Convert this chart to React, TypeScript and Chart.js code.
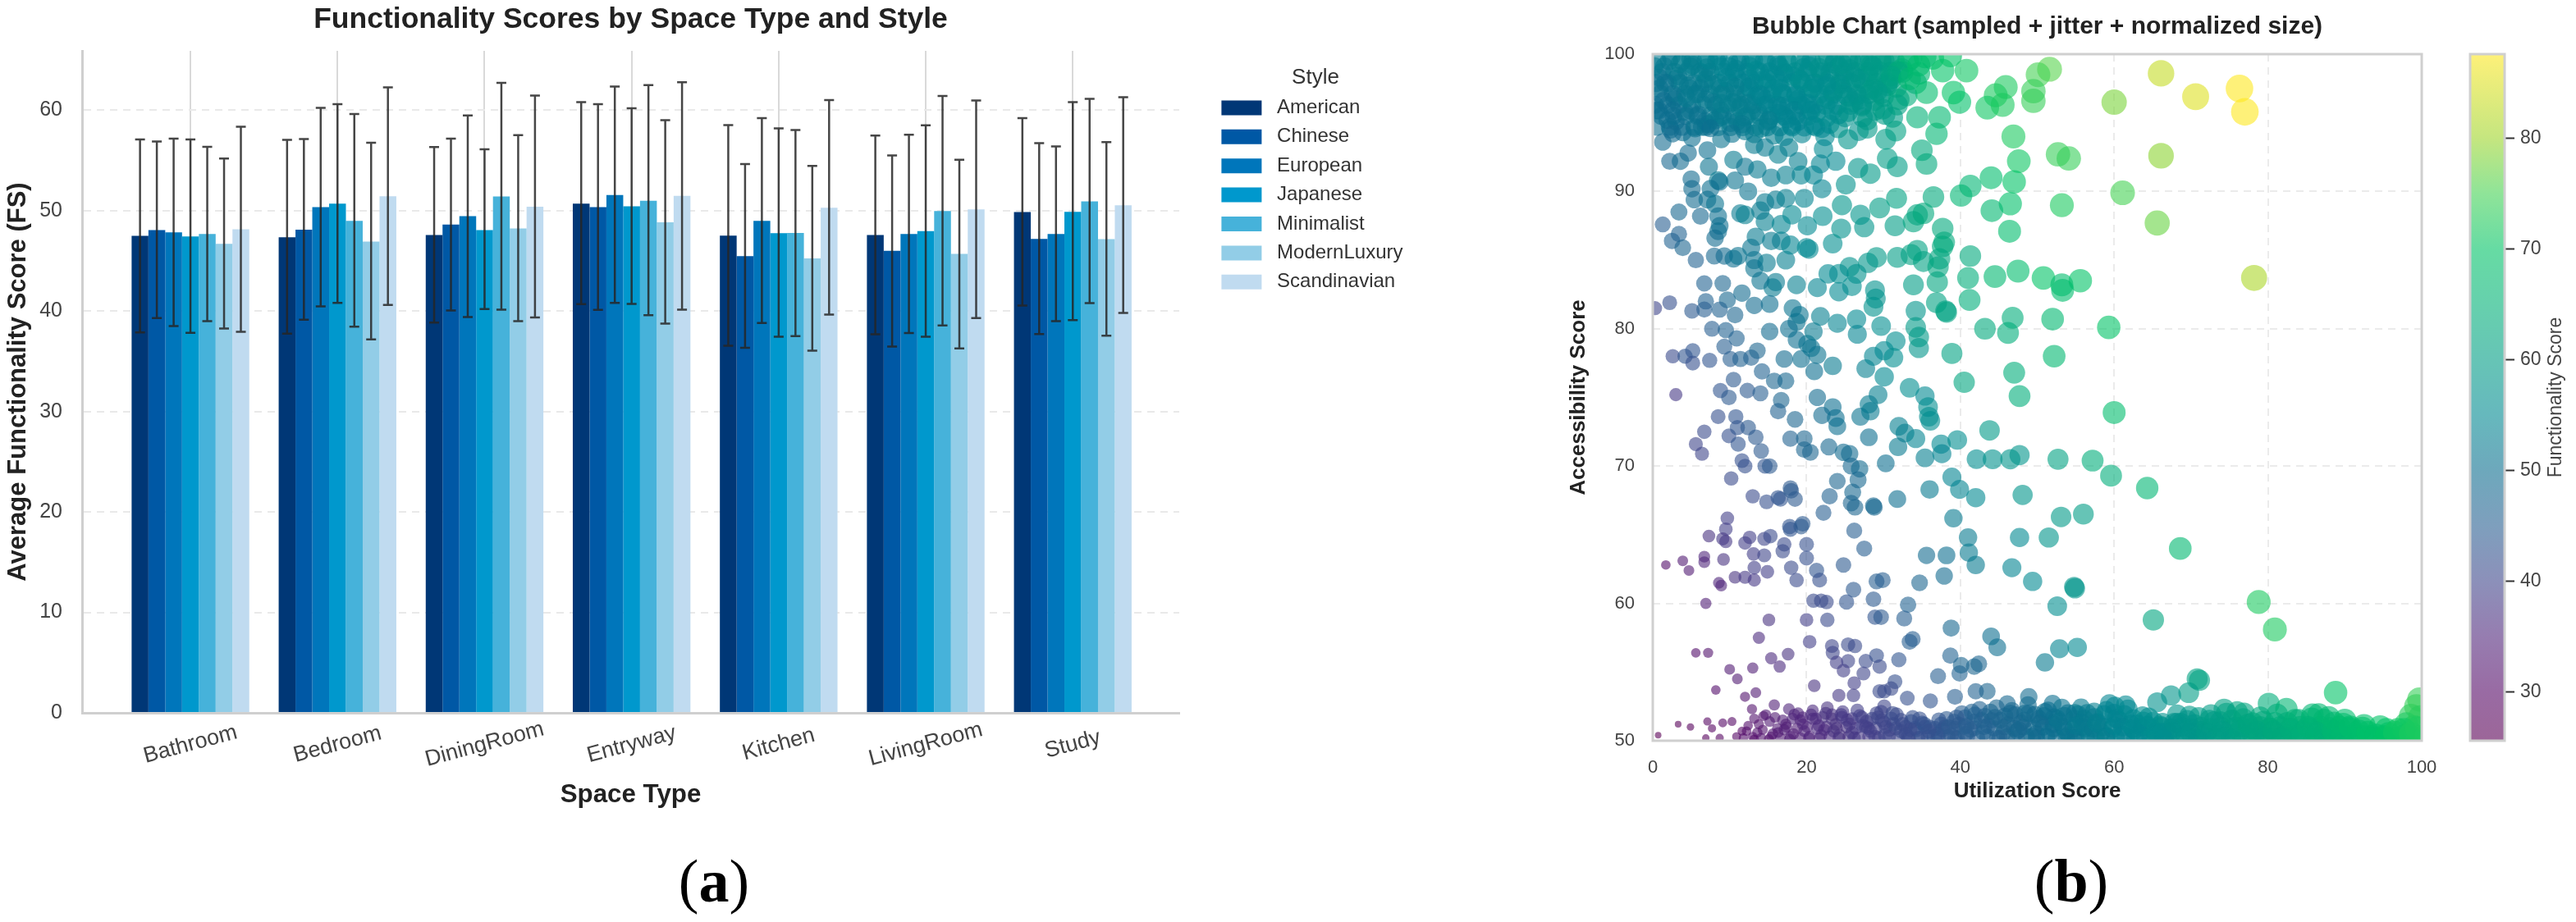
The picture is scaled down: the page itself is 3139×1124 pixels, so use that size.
import React, { useEffect, useRef } from "react";
import { Chart, registerables } from "chart.js";

Chart.register(...registerables);
Chart.defaults.font.family = "'Liberation Sans', Arial, sans-serif";

const categories = ["Bathroom", "Bedroom", "DiningRoom", "Entryway", "Kitchen", "LivingRoom", "Study"];
const styles = ["American", "Chinese", "European", "Japanese", "Minimalist", "ModernLuxury", "Scandinavian"];
const styleColors = ["#003776", "#0058a5", "#0076bb", "#0098cd", "#46b2da", "#92cde7", "#c0dbf0"];

const americanMean = [47.48, 47.35, 47.56, 50.69, 47.51, 47.56, 49.85];
const americanHigh = [57.09, 57.03, 56.33, 60.79, 58.5, 57.47, 59.21];
const americanLow = [37.88, 37.74, 38.86, 40.68, 36.54, 37.69, 40.54];
const chineseMean = [48.05, 48.1, 48.6, 50.34, 45.47, 45.99, 47.18];
const chineseHigh = [56.87, 57.12, 57.17, 60.6, 54.64, 55.48, 56.71];
const chineseLow = [39.29, 39.13, 40.05, 40.11, 36.33, 36.46, 37.71];
const europeanMean = [47.84, 50.34, 49.44, 51.54, 48.98, 47.67, 47.67];
const europeanHigh = [57.17, 60.22, 59.46, 62.34, 59.2, 57.55, 56.38];
const europeanLow = [38.5, 40.46, 39.4, 40.82, 38.8, 37.8, 38.99];
const japaneseMean = [47.43, 50.69, 48.05, 50.42, 47.76, 47.95, 49.88];
const japaneseHigh = [57.09, 60.6, 56.11, 60.19, 58.18, 58.48, 60.79];
const japaneseLow = [37.82, 40.82, 40.19, 40.71, 37.44, 37.44, 39.1];
const minimalistMean = [47.67, 48.98, 51.4, 50.97, 47.78, 49.96, 50.91];
const minimalistHigh = [56.35, 59.62, 62.72, 62.5, 58.01, 61.41, 61.12];
const minimalistLow = [38.99, 38.45, 40.14, 39.59, 37.5, 38.56, 40.79];
const luxuryMean = [46.69, 46.91, 48.22, 48.84, 45.25, 45.69, 47.16];
const luxuryHigh = [55.18, 56.76, 57.5, 59, 54.45, 55.05, 56.82];
const luxuryLow = [38.26, 37.17, 38.99, 38.75, 36.05, 36.27, 37.55];
const scandiMean = [48.14, 51.43, 50.39, 51.46, 50.29, 50.12, 50.53];
const scandiHigh = [58.34, 62.26, 61.44, 62.78, 61, 60.95, 61.28];
const scandiLow = [37.93, 40.6, 39.37, 40.14, 39.65, 39.29, 39.81];

const barMeans = [americanMean, chineseMean, europeanMean, japaneseMean, minimalistMean, luxuryMean, scandiMean];
const barHighs = [americanHigh, chineseHigh, europeanHigh, japaneseHigh, minimalistHigh, luxuryHigh, scandiHigh];
const barLows = [americanLow, chineseLow, europeanLow, japaneseLow, minimalistLow, luxuryLow, scandiLow];

const colorbarTicks = [30, 40, 50, 60, 70, 80];

// [utilization, accessibility, functionality]
const sparseUpper = [
  [40.8,98.8,71],[37.7,98.8,70],[34.6,99.2,68],[33.4,98.2,67],[35.6,97.2,68],[39.9,96.5,69],[39.1,97.2,70],[45.9,97.6,72],[44.6,97,72],[43.5,96.1,71],[45.5,96.3,72],[51.6,98.9,76],[50.1,98.5,75],[49.5,97.3,74],[49.5,96.6,74],[46.9,94,72],[47.6,92.2,71],[52.7,92.7,74],[54.1,92.4,74],[44,91,68],[47,90.7,70],[41.3,90.4,66],[40.1,89.7,66],[46.5,89.1,69],[44.1,88.6,67],[53.2,89,72],[46.4,87.1,68],
  [66.1,98.6,83],[70.6,96.9,85],[76.3,97.5,88],[77,95.8,88],[60,96.5,78],[66.1,92.6,79],[61.1,89.9,75],[65.6,87.7,77],[78.2,83.7,81],[55.6,83.5,70],[59.3,80.1,70],
  [41.3,85.3,63],[44.5,83.8,67],[47.5,84.2,68],[50.8,83.7,70],[53.2,83.2,68],[53.3,82.8,68],[41,83.7,64],[41.2,82.1,64],[37,83.4,62],[36.9,81.9,61],[38.1,81.3,61],[38.2,81.2,61],[33.9,83.2,60],[34.2,81.3,58],[52,80.7,67],[46.8,80.8,64],[43.2,80,63],[46.2,79.7,64],[52.2,78,67],[38.9,78.2,61],[34.6,78.6,58],[34.2,80.1,59],[34.6,79.4,59],[47,76.8,64],[40.5,76.1,62],[47.7,75.1,64],[60,73.9,68],
];
const sparseUpperMid = [
  [1.3,93.6,49],[2.2,92.2,48],[3.6,92.2,49],[7.3,91.8,51],[10.5,92.3,52],[5,90.9,49],[5.1,90.2,49],[8.5,90.8,52],[7.5,90.2,50],[5.4,89.4,49],[7.1,89.4,50],[3.4,88.5,48],[8.1,89.1,51],[6.2,88.2,48],[1.3,87.6,45],[8.5,88.2,50],[8.7,87.5,50],[8.5,87.1,50],[3.4,86.9,46],[2.5,86.4,46],[3.9,85.9,47],[8.1,86.6,49],[5.6,85,46],[8,85.3,48],[9.3,85.3,49],[10.5,85.1,50],[11.1,85.3,51],[13.4,86.7,52],[12.8,85.9,51],[13.2,85,51],[14.8,84.8,52],[17.3,85,53],[16.7,86.4,53],[17.9,86.1,54],[20,85.9,55],[20.3,85.8,55],[15.4,86.4,52],[11.4,88.4,52],[12,88.3,53],[14.6,87.8,53],[16.7,87.6,54],[18.1,88.3,55],[20.1,87.5,55],[22.1,88.2,56],[23.4,86.2,56],[24.5,87.3,57],[27.5,87.4,58],[27,88.3,58],[24.6,89,58],[29.5,88.8,60],[31.7,89.5,61],[31.5,87.5,60],[33.9,87.8,62],[34.4,88.3,62],[35.2,88.4,63],[36.5,89.6,63],[37.7,87.3,63],[37.9,86.3,63],[37.7,86,63],[34.4,85.7,61],[31.8,85.2,60],[33.6,85.4,61],[35.2,84.9,61],[37.1,84.5,62],[37.3,85.1,62],[29.1,85.2,59],[28,84.8,58],[25.6,84.5,57],[26.5,84,57],[24.2,84,56],[22.8,84,55],[24.2,82.7,55],[25.9,83.1,56],[28.9,82.8,57],[29,82.2,57],[28.7,81.6,57],[29.7,80.2,56],[26.5,80.7,55],[24,80.4,54],[26.6,79.6,54],[21.8,80.9,53],[21.4,83,54],[18.7,83.2,53],[16,83.4,52],[15.6,83,52],[14,83.5,51],[13.2,84.4,51],[15.2,81.8,50],[13.2,81.7,49],[11.6,82.6,49],[6.7,83.3,46],[9.1,83.3,47],[6.9,82,46],[9.7,82.1,48],[2.2,81.9,42],[0.3,81.5,40],[5.1,81.3,44],[6.7,81.4,45],[8.7,81.4,46],[10.7,81,47],[7.7,80,45],[9.5,79.9,46],[10.9,79.3,46],[9.3,78.7,45],[2.6,78,41],[4.2,78,43],[5.2,78.4,43],[5.2,77.5,42],[7.4,77.7,43],[10.1,77.8,45],[11.4,77.8,46],[12.8,77.9,46],[13.6,78.4,47],[17.1,77.8,49],[18.2,81.5,51],[19.1,81,51],[18.7,80.5,51],[17.7,80,50],[15.2,79.8,49],[18.7,79.2,50],[20.1,78.9,51],[21.4,78.1,51],[19.3,77.8,50],[20.9,79.8,52],[20.6,78.6,51],[23.4,77.3,52],[21,76.9,50],[27.7,77.1,53],[28.7,78,54],[30.1,78.4,55],[31.6,79.1,56],[31.3,77.9,56],[30.1,76.5,55],[33.4,75.7,56],[29.3,75.2,53],[35.4,75.1,55],[28.1,74.5,52],[35.8,74.3,56],[3,75.2,38],[8.8,75.5,43],[10.5,76.3,44],[9.9,75,44],[12.3,75.5,44],[14,75.3,45],[14.2,76.9,46],[15.8,76.2,47],[17.3,76.2,48],[16.7,74.8,47],[21.4,75,49],[23.4,74.3,50],
  [2.6,94.2,49],[7.5,94.6,50],[10.3,94.2,51],[4.6,92.8,49],[7.1,93,50],[13.2,93.4,52],[14.6,93.2,52],[16.3,92.7,53],[17.7,93.2,53],[18.9,92.2,53],[22.2,93.1,55],[23.8,92.2,55],[21.8,92,54],[19.3,91.2,54],[22,90.2,54],[20.9,91.2,54],[12,91.8,51],[13.6,91.6,52],[15.4,91,52],[17.3,91.2,53],[8.7,90.7,50],[10.7,90.8,51],[12.4,90,51],[14.6,89.2,52],[16,89.4,52],[17.3,89.5,53],[19.7,89.5,54],[14,88.6,52],[26.7,91.7,58],[28.3,91.3,59],[25.1,90.5,57],[31.8,91.8,60],[30.5,92.4,60],[35.6,92,63],[35,93,63],[31.6,94.4,61],[30.3,93.8,60],[27.9,94.6,59],[25.4,93.8,58],[36.9,94.2,66],[34.4,95.4,65],[37.3,95.4,67],[31.8,96.3,61],[29.9,96,60],[27.9,95.2,59],[25.4,95.8,58],[22.6,95.4,56],
];
const sparseLowerMid = [
  [8.5,73.6,42],[10.8,73.6,43],[16.3,74,46],[18.5,73.4,47],[22,73.7,49],[23.8,73.5,50],[24,72.9,50],[27,73.6,51],[28.3,74,52],[32,72.9,53],[32.8,72.4,53],[34.2,72,54],[35.9,73.6,56],[36.1,73.3,56],[43.8,72.6,59],[6.7,72.5,41],[5.6,71.6,40],[6.4,70.9,40],[9.9,72.2,42],[11,72.8,43],[12.4,72.8,44],[11.1,71.6,43],[13.4,72.1,44],[14.1,71.1,44],[11.6,70.4,42],[12,70,42],[14.6,70,43],[15.2,70,44],[10.2,69.1,41],[17.9,72,46],[19.7,72,47],[19.7,71.2,47],[20.5,71,47],[22.9,71.4,48],[24.8,71,49],[25.6,70.9,49],[25.8,70,48],[26.9,69.8,49],[28.1,72.1,50],[30.3,70.2,50],[31.9,71.4,52],[35.4,70.6,53],[37.5,71.6,55],[37.6,70.9,54],[39.6,71.9,56],[42.1,70.5,56],[44.2,70.5,57],[46.5,70.5,58],[47.7,70.8,58],[52.7,70.5,61],[26.7,69,48],[24,68.9,47],[26,68.1,48],[23,67.8,46],[25.8,67.3,47],[26.3,67,47],[28.7,67.1,48],[28.8,67,48],[22.2,66.6,45],[31.8,67.6,50],[36,68.3,52],[38.9,69.2,54],[39.9,68.3,54],[42,67.7,55],[48.1,67.9,58],[39.1,66.2,52],[53.1,66.3,59],[56,66.5,60],
  [13,67.8,41],[14.8,67.4,42],[16.3,67.7,43],[16.6,67.6,43],[17.9,68.4,44],[18,68.2,44],[18.5,67.6,44],[9.7,66.2,39],[9.5,65.4,39],[17.8,65.6,43],[17.9,65.4,43],[19.3,65.6,44],[19.5,65.8,44],[7.3,64.9,37],[9.1,64.7,38],[9.5,64.5,38],[12.6,64.8,39],[12,64.4,39],[14.5,64.7,40],[15.3,64.9,41],[17.1,64.3,41],[16.9,63.8,41],[20,64.3,42],[20,63.3,42],[26.2,65.3,45],[27.5,64,45],[24.8,62.8,44],[13.1,63.6,39],[14.5,63.5,40],[13.2,62.6,39],[14.9,62.3,39],[18,62.6,41],[21.3,62.4,43],[21.7,61.7,42],[18.7,61.7,41],[10.7,61.9,37],[12,61.9,38],[13.2,61.7,38],[1.7,62.8,31],[3.9,63.1,33],[4.7,62.4,33],[6.7,63.4,35],[6.7,63,35],[9.2,63.2,37],[8.6,61.5,35],[8.9,61.3,35],[6.9,60,34],[35.6,63.5,49],[38.2,63.5,50],[41,64.8,52],[41.1,63.7,52],[42,62.8,52],[47.7,64.8,55],[51.5,64.8,58],[46.7,62.6,54],[49.4,61.6,55],[37.9,62,49],[34.7,61.5,47],[29.1,61.6,45],[29.9,61.7,45],[54.8,61.2,58],[54.9,61.1,58],[52.6,59.8,56],
  [20.9,60.2,41],[21.9,60.2,41],[22.6,60.1,41],[26.1,61,44],[25.2,60.1,43],[28.7,60.3,44],[33.2,59.9,46],[32.7,58.9,45],[28.9,59,43],[29.7,59,44],[22.7,58.8,41],[20,58.8,39],[15.1,58.8,37],[13.8,57.5,36],[20.4,57.2,39],[23.3,56.9,40],[23.4,56.4,40],[25.4,57,41],[26.3,56.9,41],[38.8,58.2,48],[33.8,57.4,45],[33.4,57.2,45],[44,57.6,50],[44.8,56.8,50],[52.9,56.7,54],[55.2,56.8,55],[51,55.7,52],
  [5.6,56.4,31],[7.2,56.4,32],[17.6,56.3,37],[15.4,56,36],[16.5,55.4,36],[13,55.3,34],[10,55.2,33],[11,54.5,33],[8.2,53.7,31],[25.4,55.8,40],[23.9,55.7,39],[24.8,55.1,39],[27.7,55.8,41],[29.1,56.2,42],[29.5,55.4,41],[27.4,54.9,40],[32,55.9,43],[38.7,56.2,46],[37.1,54.7,45],[39.9,54.9,46],[40.1,55.5,47],[41.8,55.4,47],[42.4,55.6,47],[26.2,54.2,39],[31.5,54.3,42],[31,53.8,41],[29.5,53.6,41],[30.1,53.6,41],[24.2,53.3,38],[26.1,53.3,39],[21,54,37],[13.4,53.5,33],[12,53.2,32],[15.8,52.6,34],[17.7,52.3,35],[12.9,52.3,32],[33.1,53.1,42],[36.1,52.9,43],[39.3,53.2,45],[42,53.6,46],[43.5,53.6,47],[48.9,53.2,49],[52,52.7,50],[46.1,52.7,48],[55.7,52.4,52],[30.1,52.5,40],[3.3,51.2,27],[4.9,51,28],[0.7,50.4,26],[7.1,51.4,29],[7.7,50.9,29],[6.9,50.2,28],[8.7,50.2,29],[9.1,51.3,30],[10.3,51.4,30],[11.6,50.7,30],[13.2,51.6,32],[14.4,51.8,32],[15.2,51.4,33],
];
const sparseRight = [
  [57.2,70.4,64],[59.6,69.3,64],[64.3,68.4,66],[68.6,64,67],[78.8,60.1,72],[80.9,58.1,72],[65.1,58.8,62],
  [88.8,53.5,70],[70.8,54.5,61],[71.1,54.4,61],[69.7,53.5,60],[67.4,53.3,58],[65.6,52.8,57],[80.1,52.7,64],[82.4,52.3,66],[76,52.1,62],[74.3,52.3,61],[60.1,52.5,55],[54.9,52,52],[86.6,51.9,67],[92.5,51.1,69],[95.4,50.8,70],[99.7,53,74],[98.6,51.8,73],[99.3,52.5,74],[98,51.2,72],
];
const topRowA = [
  [0.6,99.5,52],[2.1,99.5,52],[3.8,99.5,53],[5.2,99.5,53],[6.9,99.5,53],[8.3,99.5,54],[9.9,99.5,54],[11.4,99.5,54],[12.8,99.5,55],[14.5,99.5,55],[16.1,99.5,55],[17.4,99.5,56],[19.2,99.5,56],[20.6,99.5,56],[22.3,99.5,57],[23.7,99.5,57],[25.4,99.5,58],[26.9,99.5,59],[28.3,99.5,59],[30.1,99.5,60],[31.4,99.5,62],[33.2,99.5,65],[36.4,99.7,68],[38.7,99.9,70],
  [1.2,98.7,51],[2.8,98.7,52],[4.4,98.7,52],[6.1,98.7,53],[7.5,98.7,53],[9.2,98.7,54],[10.6,98.7,54],[12.3,98.7,54],[13.9,98.7,55],[15.2,98.7,55],[17,98.7,55],[18.5,98.7,56],[20.1,98.7,56],[21.8,98.7,56],[23.1,98.7,57],[24.9,98.7,57],[26.3,98.7,58],[28,98.7,59],[29.6,98.7,60],[30.9,98.7,61],[32.5,98.7,63],
];
const topRowB = [
  [0.4,97.9,51],[2,97.9,51],[3.5,97.9,52],[5.3,97.9,52],[6.7,97.9,53],[8.6,97.9,53],[10,97.9,53],[11.7,97.9,54],[13.2,97.9,54],[14.8,97.9,55],[16.4,97.9,55],[18,97.9,55],[19.5,97.9,56],[21.1,97.9,56],[22.6,97.9,56],[24.3,97.9,57],[25.8,97.9,58],[27.4,97.9,58],[29,97.9,59],[30.5,97.9,60],
  [1,97.1,51],[2.6,97.1,51],[4.2,97.1,52],[5.9,97.1,52],[7.4,97.1,52],[9,97.1,53],[10.7,97.1,53],[12.1,97.1,53],[13.8,97.1,54],[15.5,97.1,54],[16.9,97.1,55],[18.6,97.1,55],[20.2,97.1,56],[21.7,97.1,56],[23.4,97.1,56],[24.8,97.1,57],[26.5,97.1,58],[28.1,97.1,58],[29.7,97.1,59],
  [0.3,96.3,50],[1.9,96.3,51],[3.4,96.3,51],[5.1,96.3,52],[6.6,96.3,52],[8.2,96.3,52],[9.8,96.3,53],[11.5,96.3,53],[13,96.3,53],[14.6,96.3,54],[16.2,96.3,54],[17.7,96.3,55],[19.3,96.3,55],[21,96.3,55],[22.5,96.3,56],[24,96.3,56],[25.7,96.3,57],[27.2,96.3,58],
];
const topRowC = [
  [1.1,95.5,50],[2.7,95.5,50],[4.3,95.5,51],[5.8,95.5,51],[7.5,95.5,52],[9.1,95.5,52],[10.6,95.5,52],[12.2,95.5,53],[13.9,95.5,53],[15.4,95.5,54],[17.1,95.5,54],[18.6,95.5,54],[20.2,95.5,55],
  [0.5,94.7,50],[2.2,94.7,50],[3.8,94.7,50],[5.4,94.7,51],[6.9,94.7,51],[8.5,94.7,52],[10.1,94.7,52],[11.7,94.7,52],[13.3,94.7,53],[14.9,94.7,53],[16.5,94.7,54],[18.1,94.7,54],[19.7,94.7,55],[21.2,94.7,55],
  [1.5,99.1,52],[4.9,99.1,53],[8.8,99.1,54],[12.6,99.1,55],[16.5,99.1,55],[20.4,99.1,56],[24.2,99.1,57],[28.6,99.1,59],[3.1,98.2,52],[7,98.2,53],[11,98.2,54],[14.9,98.2,55],[19,98.2,56],[23,98.2,57],[27,98.2,58],[31,98.2,61],[0.9,97.5,51],[4.8,97.5,52],[8.7,97.5,53],[12.7,97.5,54],[16.6,97.5,55],[20.8,97.5,56],[24.6,97.5,57],[28.7,97.5,59],[2.8,96.7,51],[6.9,96.7,52],[10.9,96.7,53],[14.7,96.7,54],[18.9,96.7,55],[22.9,96.7,56],[26.8,96.7,58],[0.8,95.9,50],[4.9,95.9,51],[8.8,95.9,52],[12.9,95.9,53],[16.7,95.9,54],[20.6,95.9,55],[3,95.1,50],[6.8,95.1,51],[11,95.1,52],[15,95.1,53],[18.9,95.1,54],
  [24.1,94.6,57],[22.4,94,55],[17.1,94,54],[13.2,94.2,53],[8.9,93.8,51],[5.1,93.9,50],
];
const topScatterA = [
  [0.8,98.3,51],[1.9,95.2,50],[2.4,99.8,52],[3.1,96.9,51],[3.9,94.3,50],[4.6,97.7,52],[5.2,99.2,53],[5.9,95.6,51],[6.6,98.6,53],[7.2,94.9,51],[7.9,96.5,52],[8.5,99.9,54],[9.4,97.3,53],[10.1,95,52],[10.8,98.9,54],[11.3,96.1,53],[12,94.4,52],[12.5,97.6,54],[13.1,99.6,55],[13.7,95.8,53],[14.3,98.1,55],[15,96.4,54],[15.8,94.1,53],[16.3,99.2,55],[16.8,97.2,55],[17.5,95.3,54],[18.2,98.4,56],[18.8,96.6,55],[19.4,94.2,54],[20,99.7,56],[20.7,97.5,56],[21.3,95.7,55],[21.9,98.5,56],[22.4,96.8,56],[23,94.9,56],[23.6,99.3,57],[24.4,97.8,57],[25,95.4,57],[25.6,98.9,58],[26.1,96.5,58],[26.8,94.4,57],[27.5,99.5,59],[28.2,97.4,59],[28.9,95.9,59],[29.4,98.5,60],[30,96.9,60],[30.8,99.8,61],[31.7,97.6,62],[32.4,98.9,64],[33.6,99.7,66],[34.2,97.9,66],
];
const topScatterB = [
  [0.2,99.1,52],[1.4,96.6,50],[2.3,94.5,50],[3.3,98.4,52],[4.1,95.8,51],[4.9,99.7,53],[5.6,97.1,52],[6.4,94.7,51],[7,99,53],[7.8,97.8,53],[8.7,95.4,52],[9.6,98.3,54],[10.4,96.5,53],[11,99.4,54],[11.9,95.4,53],[12.7,98.2,54],[13.5,96.9,54],[14.1,94.6,53],[14.8,99.4,55],[15.7,97.5,55],[16.4,95.7,54],[17.2,98.6,55],[18,94.8,54],[18.6,97,55],[19.6,99,56],[20.4,95.9,55],[21,97.9,56],[22,94.6,55],[22.8,99.8,57],[23.5,97.3,57],[24.2,95.6,56],[24.9,98.2,57],[25.8,99.6,58],[26.6,97,58],[27.3,95.4,58],[28,98.4,59],[28.8,96.6,59],[29.7,99.6,60],[30.5,97.7,60],[31.2,95.4,60],[31.9,98.7,63],[33,97,64],[34.6,98.6,67],[35.4,99.8,68],
];
const topScatterC = [
  [0.5,95.9,50],[1.6,97.9,51],[2.6,95.9,50],[3.5,99.3,53],[4.4,96.8,52],[5.5,94.6,51],[6.2,97.5,52],[7.3,99.6,54],[8.1,95.2,52],[9,96.4,53],[9.9,99.1,54],[10.7,97.6,53],[11.6,94.9,52],[12.4,96.4,53],[13.4,98.8,55],[14.1,97,54],[15.1,95.2,53],[15.9,98.4,55],[16.7,96.2,54],[17.6,99.4,56],[18.4,95.9,54],[19.2,98.1,56],[20.1,96.4,55],[20.9,94.8,55],[21.6,99,57],[22.6,97.7,56],[23.4,95.9,56],[24.6,99.3,58],[25.4,96.9,57],[26.4,98.3,58],[27.2,96.2,58],[28.4,99.2,59],[29.2,97.3,59],[30.2,95.6,60],[31,98.4,61],[32,96.7,62],
];
const bottomRowA = [
  [11.8,50.2,31],[13,50.3,31],[14.1,50.2,32],[15.4,50.3,32],[16.6,50.2,33],[17.9,50.3,34],[19.2,50.2,34],[20.4,50.3,35],[21.7,50.2,35],[23,50.3,36],[24.2,50.2,37],[25.5,50.3,37],[26.8,50.2,38],[28.1,50.3,38],[29.4,50.2,39],[30.7,50.3,40],[31.9,50.2,40],[33.2,50.3,41],[34.5,50.2,41],[35.8,50.3,42],[37.1,50.2,43],[38.4,50.3,43],[39.6,50.2,44],[40.9,50.3,44],[42.2,50.2,45],[43.5,50.3,46],[44.8,50.2,46],[46.1,50.3,47],[47.3,50.2,47],[48.6,50.3,48],[49.9,50.2,49],[51.2,50.3,49],[52.5,50.2,50],[53.8,50.3,50],[55,50.2,51],[56.3,50.3,52],[57.6,50.2,52],[58.9,50.3,53],[60.2,50.2,53],[61.5,50.3,54],[62.8,50.2,55],[64.1,50.3,55],[65.3,50.2,56],[66.6,50.3,56],[67.9,50.2,57],[69.2,50.3,58],[70.5,50.2,58],[71.8,50.3,59],[73.1,50.2,59],[74.4,50.3,60],[75.6,50.2,61],[76.9,50.3,61],[78.2,50.2,62],[79.5,50.3,62],[80.8,50.2,63],[82.1,50.3,64],[83.4,50.2,64],[84.7,50.3,65],[86,50.2,65],[87.2,50.3,66],[88.5,50.2,67],[89.8,50.3,67],[91.1,50.2,68],[92.4,50.3,68],[93.7,50.2,69],[95,50.3,70],[96.3,50.2,70],[97.6,50.3,71],[98.9,50.2,71],[99.8,50.3,72],
];
const bottomRowB = [
  [16.2,50.9,33],[17.4,51,34],[18.8,50.9,34],[20.1,51,35],[21.4,50.9,36],[22.6,51,36],[23.9,50.9,37],[25.2,51,37],[26.4,50.9,38],[27.7,51,39],[29,50.9,39],[30.3,51,40],[31.6,50.9,40],[32.9,51,41],[34.1,50.9,42],[35.4,51,42],[36.7,50.9,43],[38,51,43],[39.3,50.9,44],[40.5,51,45],[41.8,50.9,45],[43.1,51,46],[44.4,50.9,46],[45.7,51,47],[47,50.9,48],[48.2,51,48],[49.5,50.9,49],[50.8,51,49],[52.1,50.9,50],[53.4,51,51],[54.7,50.9,51],[55.9,51,52],[57.2,50.9,52],[58.5,51,53],[59.8,50.9,54],[61.1,51,54],[62.4,50.9,55],[63.6,51,55],[64.9,50.9,56],[66.2,51,57],[67.5,50.9,57],[68.8,51,58],[70.1,50.9,58],[71.3,51,59],[72.6,50.9,60],[73.9,51,60],[75.2,50.9,61],[76.5,51,61],[77.8,50.9,62],[79,51,63],[80.3,50.9,63],[81.6,51,64],[82.9,50.9,64],[84.2,51,65],[85.5,50.9,66],[86.8,51,66],[88,50.9,67],[89.3,51,67],[90.6,50.9,68],
];
const bottomRowC = [
  [18.2,51.6,35],[19.5,51.7,35],[20.8,51.6,36],[22.1,51.7,37],[23.3,51.6,37],[24.6,51.7,38],[25.9,51.6,38],[27.2,51.7,39],[28.5,51.6,40],[29.8,51.5,40],[31,51.6,41],[32.3,51.5,41],[33.6,51.4,42],[35,51.3,42],[37.5,51.2,43],[39.2,51.4,44],[40.6,51.7,45],[41.9,51.9,46],[43.2,51.8,46],[44.5,51.7,47],[45.8,51.8,48],[47.1,51.9,48],[48.4,52,49],[49.7,51.9,49],[50.9,51.8,50],[52.2,51.7,51],[53.5,51.8,51],[54.8,51.6,52],[56.1,51.6,52],[57.4,51.7,53],[58.7,51.9,54],[60,52,54],[61.3,51.9,55],[62.5,51.6,55],[63.8,51.4,56],[65.1,51.4,56],[66.3,51.3,57],[68.2,51.3,58],[69.8,51.8,59],[71,51.7,59],[72.4,51.5,60],[73.8,51.4,60],[75.3,51.5,61],[76.8,51.6,62],[78,51.3,62],[79.4,51.4,63],[80.9,51.3,64],[82.5,51.3,64],[84,51.5,65],[85.7,51.6,66],[87.3,51.5,67],[88.6,51.3,67],[89.8,51.2,68],
];
const bottomScatterA = [
  [12.4,51.1,31],[13.6,50.6,32],[14.7,51.9,33],[15.6,50.5,33],[16.9,51.5,34],[17.8,50.1,34],[18.9,52,35],[19.7,50.7,35],[20.8,52.2,36],[21.9,50.4,36],[22.7,52.4,37],[23.8,51.2,37],[24.7,52.1,38],[25.9,50.6,38],[26.6,52.2,39],[27.8,51.4,39],[28.9,50.3,39],[29.7,52.1,40],[30.8,50.8,40],[31.7,51.9,41],[32.9,50.5,41],[33.8,51.7,42],[34.9,50.2,42],[36,51,42],[37.1,50.5,43],[38.2,51.6,44],[39.3,50.2,44],[40.2,52,45],[41.3,50.8,45],[42.5,52.3,46],[43.6,51.1,46],[44.7,52.4,47],[45.6,50.6,47],[46.7,52.2,48],[47.9,51.3,48],[48.8,52.6,49],[49.9,50.5,49],[51,52.1,50],[52.1,51.2,50],[53.2,52.4,51],[54.1,50.4,51],[55.3,51.9,52],[56.2,50.9,52],[57.4,52.1,53],[58.3,50.6,53],[59.4,52.7,54],[60.6,51.5,54],[61.5,52.6,55],[62.6,50.8,55],[63.7,51.8,56],[64.8,50.3,56],[66,51.1,57],[67,50.6,57],[68.2,51.9,58],[69.3,50.4,58],[70.4,51.2,59],[71.4,50.7,59],[72.6,51.9,60],[73.5,50.4,60],[74.6,52,61],[75.8,51,61],[76.9,52,62],[77.9,50.5,62],[79,51.7,63],[80.2,50.9,63],[81.2,51.9,64],[82.4,50.4,64],[83.5,51.5,65],[84.6,50.7,65],[85.8,51.9,66],[86.8,50.3,66],[87.9,51.7,67],[89,50.8,67],[90,51.5,68],[91.2,50.4,68],[92.3,50.9,69],[93.4,50.3,69],[94.6,51,70],[95.7,50.5,70],[96.9,50.8,71],[98.1,50.4,71],[99,51,72],[99.8,51.7,73],
];
const bottomScatterB = [
  [10.9,50.3,30],[12.2,50.7,31],[13.2,50.1,31],[14.3,50.8,32],[15.1,50.1,32],[16.3,50.6,33],[17.3,51.2,34],[18.3,50.5,34],[19.2,51.5,35],[20.3,50.2,35],[21.2,51.6,36],[22.3,50.8,36],[23.3,51.9,37],[24.3,50.4,37],[25.3,51.5,38],[26.2,50.2,38],[27.3,51.1,39],[28.3,50.7,39],[29.3,51.7,40],[30.2,50.4,40],[31.3,51.2,41],[32.3,50.7,41],[33.3,50.1,41],[34.3,50.8,42],[35.3,51.2,43],[36.6,50.3,43],[37.7,50.8,43],[38.8,50.4,44],[39.8,51.2,44],[40.7,50.5,45],[41.8,51.4,45],[43,50.6,46],[44.1,51.5,46],[45.1,50.2,46],[46.2,51.2,47],[47.4,50.7,48],[48.3,51.5,48],[49.4,50.3,49],[50.4,51.3,49],[51.6,50.6,50],[52.6,51.6,51],[53.7,50.7,51],[54.7,50.2,51],[55.8,51.3,52],[56.8,50.5,52],[57.9,51.3,53],[59,50.3,53],[60,51.1,54],[61.1,50.4,54],[62.1,51.2,55],[63.2,50.5,55],[64.3,51.1,56],[65.4,50.6,56],[66.5,50.1,56],[67.6,50.7,57],[68.7,51.3,58],[69.9,50.6,58],[70.9,50.1,58],[72,50.6,59],[73,51.4,60],[74.1,50.7,60],[75.2,50.1,60],[76.3,50.7,61],[77.4,51.2,62],[78.5,50.7,62],[79.6,50.2,62],[80.7,50.7,63],[81.8,50.2,63],[83,50.8,64],[84.1,50.2,64],[85.2,51,65],[86.3,50.6,65],[87.4,50.1,65],[88.5,50.7,67],[89.6,50.3,67],[90.7,51,68],[91.8,50.7,68],[93,50.6,69],[94.1,50.4,69],[95.3,50.2,70],[96.5,50.6,71],[97.7,50.8,71],[98.6,50.5,72],[99.4,50.9,72],
];
const bottomScatterC = [
  [13.8,51.2,32],[15.9,51.7,33],[17.1,50.8,34],[18.4,51.9,35],[19.5,51.2,35],[20.6,51.9,36],[21.6,51.1,36],[22.5,52,37],[23.5,50.7,37],[24.5,51.9,38],[25.6,51.2,38],[26.9,51.8,39],[28,50.9,39],[29.1,52,40],[30.1,51.3,40],[31.2,52,41],[32.5,51.2,41],[33.5,50.8,41],[34.7,51.6,42],[35.9,50.7,42],[37.2,51.5,43],[38.5,51,44],[39.5,51.7,44],[40.8,51.1,45],[41.5,52.1,46],[42.8,51.5,46],[43.9,52.1,47],[45.2,51.5,47],[46.5,52,48],[47.6,50.8,48],[48.9,52,49],[50.2,51.6,49],[51.4,52.2,50],[52.8,51.4,51],[54,52,51],[55.1,51.1,52],[56.5,52,52],[57.7,51.3,53],[59,52.2,54],[60.3,51.6,54],[61.8,52.3,55],[63,51.2,55],[64.5,51.7,56],[66.2,50.6,56],[67.8,51.3,57],[69.5,51.5,58],
];
const bubbles = [...topRowA, ...topRowB, ...topRowC, ...topScatterA, ...topScatterB, ...topScatterC, ...sparseUpperMid, ...sparseUpper, ...sparseLowerMid, ...sparseRight, ...bottomRowA, ...bottomRowB, ...bottomRowC, ...bottomScatterA, ...bottomScatterB, ...bottomScatterC];

const colorStops = [
  [25.6, [90, 0, 84]], [30, [85, 8, 102]], [35, [80, 38, 123]], [40, [63, 70, 139]], [45, [40, 95, 145]], [50, [12, 110, 143]],
  [55, [0, 137, 145]], [60, [0, 157, 133]], [65, [0, 177, 118]], [70, [0, 195, 102]], [75, [68, 210, 84]], [80, [158, 213, 42]], [87.6, [253, 231, 31]],
] as [number, number[]][];
const BUBBLE_ALPHA = 0.6;

function colorFor(v: number, alpha = BUBBLE_ALPHA) {
  let a = colorStops[0];
  let b = colorStops[colorStops.length - 1];
  for (let i = 0; i < colorStops.length - 1; i++) {
    if (v >= colorStops[i][0] && v <= colorStops[i + 1][0]) {
      a = colorStops[i];
      b = colorStops[i + 1];
      break;
    }
  }
  if (v < a[0]) b = a;
  const t = b[0] === a[0] ? 0 : Math.min(1, (v - a[0]) / (b[0] - a[0]));
  const c = a[1].map((n, i) => Math.round(n + (b[1][i] - n) * t));
  return `rgba(${c[0]},${c[1]},${c[2]},${alpha})`;
}

const TICK = "#444444";
const INK = "#222222";
const SPINE = "#cfcfcf";

const frame = {
  id: "frame",
  afterDraw(chart: any) {
    const { left, top, width, height } = chart.chartArea;
    const { ctx } = chart;
    ctx.save();
    ctx.strokeStyle = SPINE;
    ctx.lineWidth = 3;
    ctx.strokeRect(left, top, width, height);
    ctx.restore();
  },
};

const errorBars = {
  id: "errorBars",
  afterDatasetsDraw(chart: any) {
    const { ctx } = chart;
    const y = chart.scales.y;
    ctx.save();
    ctx.strokeStyle = "rgba(38,38,38,0.85)";
    ctx.lineWidth = 2.5;
    barMeans.forEach((_, s) => {
      chart.getDatasetMeta(s).data.forEach((bar: any, i: number) => {
        const hi = y.getPixelForValue(barHighs[s][i]);
        const lo = y.getPixelForValue(barLows[s][i]);
        ctx.beginPath();
        ctx.moveTo(bar.x, hi);
        ctx.lineTo(bar.x, lo);
        ctx.moveTo(bar.x - 6, hi);
        ctx.lineTo(bar.x + 6, hi);
        ctx.moveTo(bar.x - 6, lo);
        ctx.lineTo(bar.x + 6, lo);
        ctx.stroke();
      });
    });
    ctx.restore();
  },
};

const placeLegend = {
  id: "placeLegend",
  afterLayout(chart: any) {
    const l = chart.legend;
    l.left = 1477;
    l.width = 252;
    l.right = 1477 + 252;
    l.top = 82;
    l.bottom = 82 + l.height;
  },
};

const colorbarTitle = {
  id: "colorbarTitle",
  afterDraw(chart: any) {
    const { ctx, chartArea } = chart;
    ctx.save();
    ctx.translate(155, (chartArea.top + chartArea.bottom) / 2);
    ctx.rotate(-Math.PI / 2);
    ctx.font = "23px 'Liberation Sans'";
    ctx.fillStyle = TICK;
    ctx.textAlign = "center";
    ctx.textBaseline = "middle";
    ctx.fillText("Functionality Score", 0, 0);
    ctx.restore();
  },
};

function buildBars(canvas: HTMLCanvasElement) {
  return new Chart(canvas, {
    type: "bar",
    data: {
      datasets: styles.map((label, s) => ({
        label,
        backgroundColor: styleColors[s],
        data: barMeans[s].map((y, x) => ({ x, y })),
        categoryPercentage: 0.8,
        barPercentage: 1,
      })),
    },
    plugins: [errorBars, placeLegend],
    options: {
      responsive: false,
      animation: false,
      devicePixelRatio: 1,
      events: [],
      layout: { padding: { right: 283 } },
      plugins: {
        tooltip: { enabled: false },
        title: {
          display: true,
          fullSize: false,
          text: "Functionality Scores by Space Type and Style",
          color: INK,
          font: { size: 35.5, weight: "bold", lineHeight: 1.2 },
          padding: { top: 3, bottom: 16.4 },
        },
        legend: {
          position: "chartArea",
          align: "start",
          title: { display: true, text: "Style", color: "#333333", font: { size: 26, lineHeight: 1 }, padding: 0 },
          labels: {
            boxWidth: 49,
            boxHeight: 18,
            padding: 11.4,
            color: "#333333",
            font: { size: 24 },
            generateLabels: (chart: any) =>
              chart.data.datasets.map((d: any, i: number) => ({
                text: " " + d.label,
                fillStyle: d.backgroundColor,
                strokeStyle: d.backgroundColor,
                lineWidth: 0,
                hidden: false,
                datasetIndex: i,
              })),
          },
        },
      },
      scales: {
        x: {
          type: "linear",
          offset: false,
          min: -0.737,
          max: 6.724,
          afterDataLimits(scale: any) {
            scale._getXAxisLabelAlignment = () => "center";
          },
          afterBuildTicks(scale: any) {
            scale.ticks = categories.map((_, value) => ({ value }));
          },
          afterFit(scale: any) {
            scale.height = 119;
          },
          grid: { offset: false, color: "#d9d9d9", lineWidth: 2, drawTicks: false },
          border: { color: SPINE, width: 3 },
          ticks: {
            autoSkip: false,
            minRotation: 15,
            maxRotation: 15,
            padding: 23,
            color: TICK,
            font: { size: 27 },
            callback: (v: any) => categories[v] ?? "",
          },
          title: { display: true, text: "Space Type", color: INK, font: { size: 31.3, weight: "bold" }, padding: 0 },
        },
        y: {
          min: 0,
          max: 65.9,
          afterBuildTicks(scale: any) {
            scale.ticks = scale.ticks.filter((t: any) => t.value % 10 === 0);
          },
          afterFit(scale: any) {
            scale.width = 100;
          },
          grid: { color: "#e9e9e9", lineWidth: 2, drawTicks: false },
          border: { color: SPINE, width: 3, dash: [9, 7] },
          ticks: { stepSize: 10, padding: 24, color: TICK, font: { size: 25 } },
          title: {
            display: true,
            text: "Average Functionality Score (FS)",
            color: INK,
            font: { size: 31, weight: "bold" },
            padding: { top: 4, bottom: 0 },
          },
        },
      },
    } as any,
  });
}

function buildBubbles(canvas: HTMLCanvasElement) {
  return new Chart(canvas, {
    type: "scatter",
    data: {
      datasets: [
        {
          label: "Bubbles",
          data: bubbles.map(([x, y, f]) => ({ x, y, f })),
          clip: 0,
          borderWidth: 0,
          pointHoverRadius: 0,
          pointRadius: (ctx: any) => Math.sqrt(Math.max(16, 21 + 4.37 * (ctx.raw.f - 28))),
          pointBackgroundColor: (ctx: any) => colorFor(ctx.raw.f),
        } as any,
      ],
    },
    plugins: [frame],
    options: {
      responsive: false,
      animation: false,
      devicePixelRatio: 1,
      events: [],
      layout: { padding: { right: 49 } },
      plugins: {
        legend: { display: false },
        tooltip: { enabled: false },
        title: {
          display: true,
          fullSize: false,
          text: "Bubble Chart (sampled + jitter + normalized size)",
          color: INK,
          font: { size: 30, weight: "bold", lineHeight: 1.2 },
          padding: { top: 15, bottom: 15 },
        },
      },
      scales: {
        x: {
          min: 0,
          max: 100,
          afterFit(scale: any) {
            scale.height = 77;
          },
          grid: { color: "#ebebeb", lineWidth: 2, drawTicks: false },
          border: { display: false, dash: [9, 7] },
          ticks: { stepSize: 20, padding: 20, color: TICK, font: { size: 22 } },
          title: { display: true, text: "Utilization Score", color: INK, font: { size: 26, weight: "bold" }, padding: 0 },
        },
        y: {
          min: 50,
          max: 100,
          afterFit(scale: any) {
            scale.width = 114;
          },
          grid: { color: "#ebebeb", lineWidth: 2, drawTicks: false },
          border: { display: false, dash: [9, 7] },
          ticks: { stepSize: 10, padding: 22, color: TICK, font: { size: 22 } },
          title: { display: true, text: "Accessibility Score", color: INK, font: { size: 26, weight: "bold" }, padding: { top: 8, bottom: 0 } },
        },
      },
    } as any,
  });
}

function buildColorbar(canvas: HTMLCanvasElement) {
  const lo = 25.6;
  const hi = 87.6;
  return new Chart(canvas, {
    type: "bar",
    data: {
      labels: ["Functionality Score"],
      datasets: [
        {
          label: "Functionality Score",
          data: [[lo, hi]],
          barPercentage: 1,
          categoryPercentage: 1,
          backgroundColor: (ctx: any) => {
            const y = ctx.chart.scales.y;
            if (!y || !ctx.chart.chartArea) return "transparent";
            const g = ctx.chart.ctx.createLinearGradient(0, y.getPixelForValue(lo), 0, y.getPixelForValue(hi));
            colorStops.forEach(([v]) => g.addColorStop((v - lo) / (hi - lo), colorFor(v)));
            return g;
          },
        } as any,
      ],
    },
    plugins: [frame, colorbarTitle],
    options: {
      responsive: false,
      animation: false,
      devicePixelRatio: 1,
      events: [],
      layout: { padding: { left: 50, top: 66, bottom: 97 } },
      plugins: { legend: { display: false }, tooltip: { enabled: false } },
      scales: {
        x: { display: false },
        y: {
          position: "right",
          min: lo,
          max: hi,
          afterBuildTicks(scale: any) {
            scale.ticks = colorbarTicks.map((value) => ({ value }));
          },
          afterFit(scale: any) {
            scale.width = 87;
          },
          grid: { drawOnChartArea: false, tickLength: 12, tickWidth: 2, tickColor: "#333333" },
          border: { display: false },
          ticks: { padding: 7, color: TICK, font: { size: 23 } },
        },
      },
    } as any,
  });
}

const labelStyle = (left: number, top: number): React.CSSProperties => ({
  position: "absolute",
  left,
  top,
  transform: "translate(-50%, -50%)",
  font: "74px 'Liberation Serif', serif",
  color: "#000",
  lineHeight: 1,
});

export default function App() {
  const barRef = useRef<HTMLCanvasElement>(null);
  const bubbleRef = useRef<HTMLCanvasElement>(null);
  const cbRef = useRef<HTMLCanvasElement>(null);
  useEffect(() => {
    const charts = [buildBars(barRef.current!), buildBubbles(bubbleRef.current!), buildColorbar(cbRef.current!)];
    return () => charts.forEach((c) => c.destroy());
  }, []);
  const abs = (left: number): React.CSSProperties => ({ position: "absolute", left, top: 0, display: "block" });
  return (
    <div style={{ position: "absolute", left: 0, top: 0, width: 3139, height: 1124, background: "#fff", overflow: "hidden" }}>
      <canvas ref={barRef} width={1720} height={988} style={abs(0)} />
      <canvas ref={bubbleRef} width={1100} height={980} style={abs(1900)} />
      <canvas ref={cbRef} width={179} height={1000} style={abs(2960)} />
      <div style={labelStyle(870, 1074)}>
        (<b>a</b>)
      </div>
      <div style={labelStyle(2524, 1074)}>
        (<b>b</b>)
      </div>
    </div>
  );
}
